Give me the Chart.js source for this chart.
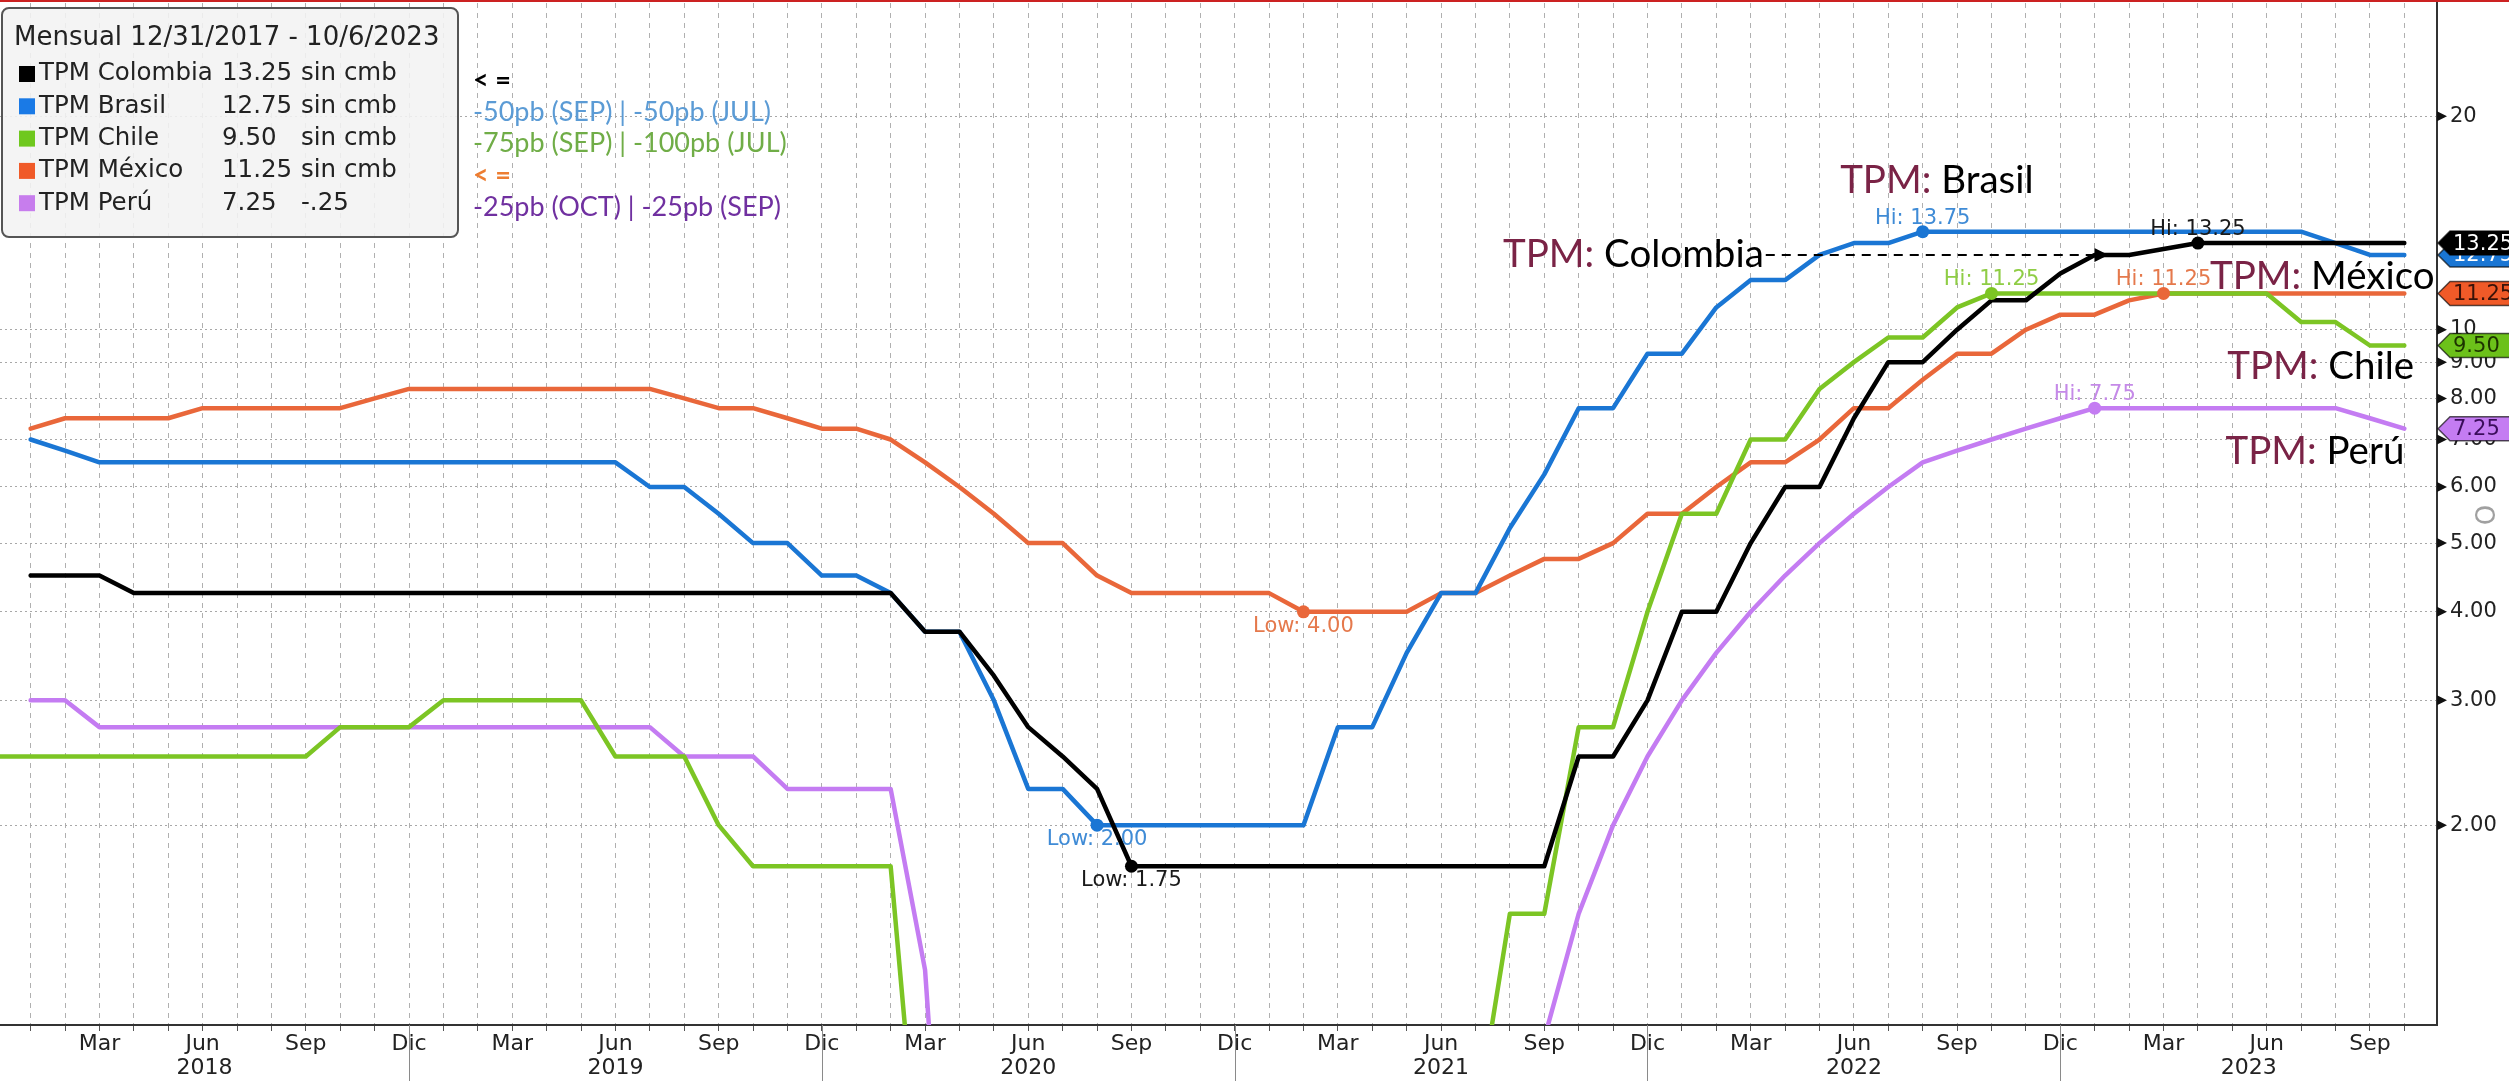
<!DOCTYPE html>
<html>
<head>
<meta charset="utf-8">
<script src="https://cdn.jsdelivr.net/npm/chart.js@4.4.0/dist/chart.umd.min.js"></script>
<style>
  html, body { margin: 0; padding: 0; background: #fff; }
  canvas { display: block; }
</style>
</head>
<body>
<canvas id="tpmChart" width="2509" height="1081"></canvas>
<script>
// month-end samples, Dic 2017 .. Oct 2023 (index 0 = Dic 2017)
const months = [
  '2017-12',
  '2018-01','2018-02','2018-03','2018-04','2018-05','2018-06','2018-07','2018-08','2018-09','2018-10','2018-11','2018-12',
  '2019-01','2019-02','2019-03','2019-04','2019-05','2019-06','2019-07','2019-08','2019-09','2019-10','2019-11','2019-12',
  '2020-01','2020-02','2020-03','2020-04','2020-05','2020-06','2020-07','2020-08','2020-09','2020-10','2020-11','2020-12',
  '2021-01','2021-02','2021-03','2021-04','2021-05','2021-06','2021-07','2021-08','2021-09','2021-10','2021-11','2021-12',
  '2022-01','2022-02','2022-03','2022-04','2022-05','2022-06','2022-07','2022-08','2022-09','2022-10','2022-11','2022-12',
  '2023-01','2023-02','2023-03','2023-04','2023-05','2023-06','2023-07','2023-08','2023-09','2023-10'
];
const monthNames = ['Ene','Feb','Mar','Abr','May','Jun','Jul','Ago','Sep','Oct','Nov','Dic'];
const shownMonths = ['Mar','Jun','Sep','Dic'];
const years = ['2018','2019','2020','2021','2022','2023'];
const yTicks = [2, 3, 4, 5, 6, 7, 8, 9, 10, 20];

const colombia = [null,
  4.50,4.50,4.50,4.25,4.25,4.25,4.25,4.25,4.25,4.25,4.25,4.25,
  4.25,4.25,4.25,4.25,4.25,4.25,4.25,4.25,4.25,4.25,4.25,4.25,
  4.25,4.25,3.75,3.75,3.25,2.75,2.50,2.25,1.75,1.75,1.75,1.75,
  1.75,1.75,1.75,1.75,1.75,1.75,1.75,1.75,1.75,2.50,2.50,3.00,
  4.00,4.00,5.00,6.00,6.00,7.50,9.00,9.00,10.00,11.00,11.00,12.00,
  12.75,12.75,13.00,13.25,13.25,13.25,13.25,13.25,13.25,13.25];
const brasil = [null,
  7.00,6.75,6.50,6.50,6.50,6.50,6.50,6.50,6.50,6.50,6.50,6.50,
  6.50,6.50,6.50,6.50,6.50,6.50,6.00,6.00,5.50,5.00,5.00,4.50,
  4.50,4.25,3.75,3.75,3.00,2.25,2.25,2.00,2.00,2.00,2.00,2.00,
  2.00,2.00,2.75,2.75,3.50,4.25,4.25,5.25,6.25,7.75,7.75,9.25,
  9.25,10.75,11.75,11.75,12.75,13.25,13.25,13.75,13.75,13.75,13.75,13.75,
  13.75,13.75,13.75,13.75,13.75,13.75,13.75,13.25,12.75,12.75];
const chile = [2.50,
  2.50,2.50,2.50,2.50,2.50,2.50,2.50,2.50,2.50,2.75,2.75,2.75,
  3.00,3.00,3.00,3.00,3.00,2.50,2.50,2.50,2.00,1.75,1.75,1.75,
  1.75,1.75,0.50,0.50,0.50,0.50,0.50,0.50,0.50,0.50,0.50,0.50,
  0.50,0.50,0.50,0.50,0.50,0.50,0.75,1.50,1.50,2.75,2.75,4.00,
  5.50,5.50,7.00,7.00,8.25,9.00,9.75,9.75,10.75,11.25,11.25,11.25,
  11.25,11.25,11.25,11.25,11.25,11.25,10.25,10.25,9.50,9.50];
const mexico = [null,
  7.25,7.50,7.50,7.50,7.50,7.75,7.75,7.75,7.75,7.75,8.00,8.25,
  8.25,8.25,8.25,8.25,8.25,8.25,8.25,8.00,7.75,7.75,7.50,7.25,
  7.25,7.00,6.50,6.00,5.50,5.00,5.00,4.50,4.25,4.25,4.25,4.25,
  4.25,4.00,4.00,4.00,4.00,4.25,4.25,4.50,4.75,4.75,5.00,5.50,
  5.50,6.00,6.50,6.50,7.00,7.75,7.75,8.50,9.25,9.25,10.00,10.50,
  10.50,11.00,11.25,11.25,11.25,11.25,11.25,11.25,11.25,11.25];
const peru = [null,
  3.00,3.00,2.75,2.75,2.75,2.75,2.75,2.75,2.75,2.75,2.75,2.75,
  2.75,2.75,2.75,2.75,2.75,2.75,2.75,2.50,2.50,2.50,2.25,2.25,
  2.25,2.25,1.25,0.25,0.25,0.25,0.25,0.25,0.25,0.25,0.25,0.25,
  0.25,0.25,0.25,0.25,0.25,0.25,0.25,0.50,1.00,1.50,2.00,2.50,
  3.00,3.50,4.00,4.50,5.00,5.50,6.00,6.50,6.75,7.00,7.25,7.50,
  7.75,7.75,7.75,7.75,7.75,7.75,7.75,7.75,7.50,7.25];

const seriesNames = ['TPM Colombia', 'TPM Brasil', 'TPM Chile', 'TPM México', 'TPM Perú'];
const seriesData = [colombia, brasil, chile, mexico, peru];
const showLow = [true, true, false, true, false];

const legendTitle = 'Mensual 12/31/2017 - 10/6/2023';
const sideNotes = [
  { text: '< =', color: '#000000', bold: true },
  { text: '-50pb (SEP) | -50pb (JUL)', color: '#5b9bd5' },
  { text: '-75pb (SEP) | -100pb (JUL)', color: '#70ad47' },
  { text: '< =', color: '#ed7d31', bold: true },
  { text: '-25pb (OCT) | -25pb (SEP)', color: '#7030a0' }
];
// text call-outs, anchored in data space [month index, rate]
const callouts = [
  { name: 'Brasil', at: [52.6, 16.25] },
  { name: 'Colombia', at: [42.8, 12.75], arrowTo: [60.4, 12.75] },
  { name: 'México', at: [63.35, 11.89] },
  { name: 'Chile', at: [63.85, 8.88] },
  { name: 'Perú', at: [63.8, 6.72] }
];

const lineColors  = ['#000000', '#1a76d4', '#7cc524', '#e9673a', '#c47cf2'];
const legendColors = ['#000000', '#1a7ae6', '#6fc81e', '#f05a28', '#c77ded'];
const labelColors = ['#1a1a1a', '#3f8bd6', '#8fcd45', '#e5794c', '#c58ae8'];
const tagFill     = ['#000000', '#1a76d4', '#6cc11a', '#f05a28', '#c47cf2'];
const tagText     = ['#ffffff', '#ffffff', '#1d3300', '#3a1208', '#3a0c5a'];

const FONT = '"DejaVu Sans", Verdana, sans-serif';
const NOTE_FONT = 'Lato, "Open Sans", sans-serif';

const toPoints = arr => arr.map((v, k) => ({ x: k - 1, y: v }));
const fmt = v => v >= 10 && Number.isInteger(v) ? String(v) : v.toFixed(2);
const fmtChg = d => d === 0 ? 'sin cmb' : (d < 0 ? '-' : '+') + Math.abs(d).toFixed(2).replace(/^0/, '');

const overlay = {
  id: 'overlay',
  afterDraw(chart) {
    const { ctx, chartArea: area, scales: { x, y } } = chart;
    const px = (i, v) => [x.getPixelForValue(i), y.getPixelForValue(v)];
    ctx.save();

    // red rule on top
    ctx.strokeStyle = '#cc2222';
    ctx.lineWidth = 2;
    ctx.beginPath(); ctx.moveTo(0, 1); ctx.lineTo(chart.width, 1); ctx.stroke();

    // year separators and labels
    ctx.strokeStyle = '#8a8a8a';
    ctx.lineWidth = 1;
    const decX = [];
    months.forEach((m, k) => { if (m.endsWith('-12')) decX.push(k - 1); });
    decX.forEach(v => {
      if (v < x.min || v > x.max) return;
      const p = Math.round(x.getPixelForValue(v)) + 0.5;
      ctx.beginPath(); ctx.moveTo(p, area.bottom); ctx.lineTo(p, chart.height); ctx.stroke();
    });
    ctx.fillStyle = '#222';
    ctx.font = '22px ' + FONT;
    ctx.textAlign = 'center';
    ctx.textBaseline = 'middle';
    years.forEach(yr => {
      const s = months.indexOf((+yr - 1) + '-12') - 1;
      const eIdx = months.indexOf(yr + '-12');
      const a = Math.max(area.left, x.getPixelForValue(s));
      const b = eIdx < 0 ? area.right : Math.min(area.right, x.getPixelForValue(eIdx - 1));
      ctx.fillText(yr, (a + b) / 2, 1068);
    });

    // little arrow markers on the value axis
    ctx.fillStyle = '#111';
    yTicks.forEach(v => {
      const py = y.getPixelForValue(v);
      ctx.beginPath();
      ctx.moveTo(area.right, py - 5); ctx.lineTo(area.right + 10, py); ctx.lineTo(area.right, py + 5);
      ctx.closePath(); ctx.fill();
    });

    // grey glyph at the right margin
    ctx.save();
    ctx.translate(2482, 515);
    ctx.rotate(Math.PI / 2);
    ctx.fillStyle = '#a0a0a0';
    ctx.font = '26px ' + FONT;
    ctx.fillText('O', 0, 0);
    ctx.restore();

    // legend box
    ctx.fillStyle = 'rgba(242,242,242,0.88)';
    ctx.strokeStyle = '#555';
    ctx.lineWidth = 2;
    ctx.beginPath();
    ctx.roundRect(2, 8, 456, 229, 7);
    ctx.fill(); ctx.stroke();
    ctx.textAlign = 'left';
    ctx.textBaseline = 'middle';
    ctx.fillStyle = '#222';
    ctx.font = '26px ' + FONT;
    ctx.fillText(legendTitle, 14, 38);
    ctx.font = '24.5px ' + FONT;
    seriesNames.forEach((name, i) => {
      const data = seriesData[i];
      const last = data[data.length - 1];
      const prev = data[data.length - 2];
      const ry = 74 + i * 32.3;
      ctx.fillStyle = legendColors[i];
      ctx.fillRect(19, ry - 8, 16, 16);
      ctx.fillStyle = '#222';
      ctx.fillText(name, 39, ry);
      ctx.fillText(last.toFixed(2), 222, ry);
      ctx.fillText(fmtChg(last - prev), 301, ry);
    });

    // notes next to the legend
    sideNotes.forEach((n, i) => {
      ctx.font = (n.bold ? 'bold ' : '') + '27px ' + NOTE_FONT;
      ctx.fillStyle = n.color;
      ctx.fillText(n.text, 473, 80 + i * 31.8);
    });

    // Hi / Low markers
    ctx.font = '21px ' + FONT;
    ctx.textAlign = 'center';
    seriesData.forEach((data, i) => {
      const vals = data.filter(v => v !== null);
      const marks = [{ v: Math.max(...vals), tag: 'Hi', up: true }];
      if (showLow[i]) marks.push({ v: Math.min(...vals), tag: 'Low', up: false });
      marks.forEach(m => {
        const k = data.indexOf(m.v);
        const [mx, my] = px(k - 1, m.v);
        ctx.fillStyle = lineColors[i];
        ctx.beginPath(); ctx.arc(mx, my, 6.5, 0, Math.PI * 2); ctx.fill();
        ctx.fillStyle = labelColors[i];
        ctx.textBaseline = m.up ? 'bottom' : 'top';
        ctx.fillText(m.tag + ': ' + m.v.toFixed(2), mx, m.up ? my - 3 : my + 4);
      });
    });

    // TPM call-outs
    ctx.textAlign = 'left';
    ctx.textBaseline = 'middle';
    ctx.font = '38.5px ' + NOTE_FONT;
    callouts.forEach(c => {
      const [cx, cy] = px(c.at[0], c.at[1]);
      ctx.fillStyle = '#7a2346';
      ctx.fillText('TPM:', cx, cy);
      const w1 = ctx.measureText('TPM: ').width;
      ctx.fillStyle = '#000';
      ctx.fillText(c.name, cx + w1, cy);
      if (c.arrowTo) {
        const x0 = cx + w1 + ctx.measureText(c.name).width + 2;
        const [tx, ty] = px(c.arrowTo[0], c.arrowTo[1]);
        ctx.strokeStyle = '#000';
        ctx.lineWidth = 2;
        ctx.setLineDash([9, 7]);
        ctx.beginPath(); ctx.moveTo(x0, ty); ctx.lineTo(tx - 12, ty); ctx.stroke();
        ctx.setLineDash([]);
        ctx.fillStyle = '#000';
        ctx.beginPath();
        ctx.moveTo(tx, ty); ctx.lineTo(tx - 14, ty - 7); ctx.lineTo(tx - 14, ty + 7);
        ctx.closePath(); ctx.fill();
      }
    });

    // last-value tags on the right axis
    ctx.font = '21px ' + FONT;
    [4, 2, 3, 1, 0].forEach(i => {
      const data = seriesData[i];
      const last = data[data.length - 1];
      const ty = y.getPixelForValue(last);
      const x0 = area.right + 1;
      ctx.fillStyle = tagFill[i];
      ctx.strokeStyle = 'rgba(0,0,0,0.65)';
      ctx.lineWidth = 1.5;
      ctx.beginPath();
      ctx.moveTo(x0, ty);
      ctx.lineTo(x0 + 12, ty - 12);
      ctx.lineTo(chart.width + 2, ty - 12);
      ctx.lineTo(chart.width + 2, ty + 12);
      ctx.lineTo(x0 + 12, ty + 12);
      ctx.closePath();
      ctx.fill(); ctx.stroke();
      ctx.fillStyle = tagText[i];
      ctx.fillText(last.toFixed(2), x0 + 15, ty + 1);
    });

    ctx.restore();
  }
};

new Chart(document.getElementById('tpmChart').getContext('2d'), {
  type: 'line',
  data: {
    datasets: seriesData.map((d, i) => ({
      label: seriesNames[i],
      data: toPoints(d),
      borderColor: lineColors[i],
      backgroundColor: lineColors[i],
      borderWidth: 4.5,
      pointRadius: 0,
      tension: 0,
      borderJoinStyle: 'round',
      borderCapStyle: 'round'
    }))
  },
  options: {
    responsive: false,
    animation: false,
    events: [],
    layout: { padding: { top: 3, left: 0, right: 0, bottom: 0 } },
    plugins: { legend: { display: false }, tooltip: { enabled: false } },
    scales: {
      x: {
        type: 'linear',
        min: -0.89,
        max: 69.95,
        afterBuildTicks: scale => {
          scale.ticks = months.map((m, k) => ({ value: k - 1 }))
            .filter(t => t.value >= scale.min && t.value <= scale.max);
        },
        afterFit: scale => {
          scale.height = 56;
          scale.paddingLeft = 0; scale.paddingRight = 0;
        },
        ticks: {
          autoSkip: false, maxRotation: 0, minRotation: 0, padding: 0,
          color: '#222',
          font: { family: FONT, size: 22 },
          callback: v => {
            const m = months[v + 1];
            if (!m) return '';
            const name = monthNames[+m.slice(5) - 1];
            return shownMonths.includes(name) ? name : '';
          }
        },
        grid: { color: '#b0b0b0', lineWidth: 1, tickLength: 6, tickColor: '#555' },
        border: { display: true, color: '#333', width: 2, dash: [5, 5] }
      },
      y: {
        type: 'logarithmic',
        position: 'right',
        min: 1.045,
        max: 28.9,
        afterBuildTicks: scale => { scale.ticks = yTicks.map(v => ({ value: v })); },
        afterFit: scale => {
          scale.width = 72;
          scale.paddingTop = 0; scale.paddingBottom = 0;
        },
        ticks: {
          padding: 13,
          color: '#222',
          font: { family: FONT, size: 21 },
          callback: v => fmt(v)
        },
        grid: { color: '#a8a8a8', lineWidth: 1, drawTicks: false },
        border: { display: true, color: '#333', width: 2, dash: [2, 3] }
      }
    }
  },
  plugins: [overlay]
});
</script>
</body>
</html>
